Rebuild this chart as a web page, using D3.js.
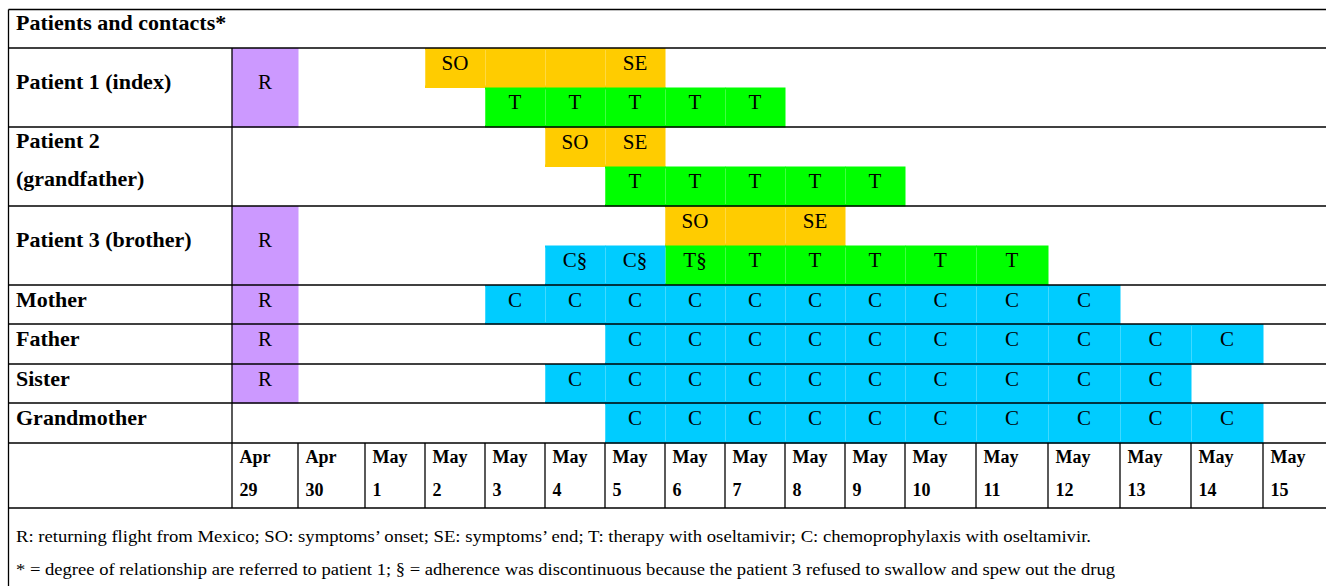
<!DOCTYPE html>
<html>
<head>
<meta charset="utf-8">
<script src="https://cdn.jsdelivr.net/npm/d3@7"></script>
<style>
  html, body { margin: 0; padding: 0; background: #fff; }
  svg { display: block; }
  text { font-family: "Liberation Serif", "Times New Roman", serif; fill: #000; }
</style>
</head>
<body>
<svg id="chart" width="1326" height="586"></svg>
<script>
// ---------------- DATA ----------------
const title = "Patients and contacts*";
const dayMonth = ["Apr","Apr","May","May","May","May","May","May","May","May","May","May","May","May","May","May","May"];
const dayNum   = ["29","30","1","2","3","4","5","6","7","8","9","10","11","12","13","14","15"];
const days = dayMonth.map((m, i) => m + " " + dayNum[i]);

const people = ["Patient 1 (index)", "Patient 2 (grandfather)", "Patient 3 (brother)", "Mother", "Father", "Sister", "Grandmother"];
const peopleLabels = [["Patient 1 (index)"], ["Patient 2", "(grandfather)"], ["Patient 3 (brother)"], ["Mother"], ["Father"], ["Sister"], ["Grandmother"]];
const patients = ["Patient 1 (index)", "Patient 2 (grandfather)", "Patient 3 (brother)"];

// R: returning flight from Mexico
const returnDay = "Apr 29";
const returnPeople = ["Patient 1 (index)", "Patient 3 (brother)", "Mother", "Father", "Sister"];

// Symptoms (SO .. SE)
const symptomPeople = ["Patient 1 (index)", "Patient 2 (grandfather)", "Patient 3 (brother)"];
const symptomOnset  = ["May 2", "May 4", "May 6"];
const symptomEnd    = ["May 5", "May 5", "May 8"];

// Therapy with oseltamivir (T)
const therapyPeople = ["Patient 1 (index)", "Patient 2 (grandfather)", "Patient 3 (brother)"];
const therapyStart  = ["May 3", "May 5", "May 6"];
const therapyEnd    = ["May 7", "May 9", "May 11"];
const therapyDiscontinuous = [[], [], ["May 6"]];

// Chemoprophylaxis with oseltamivir (C)
const chemoPeople = ["Patient 3 (brother)", "Mother", "Father", "Sister", "Grandmother"];
const chemoStart  = ["May 4", "May 3", "May 5", "May 4", "May 5"];
const chemoEnd    = ["May 5", "May 12", "May 14", "May 13", "May 14"];
const chemoDiscontinuous = [["May 4", "May 5"], [], [], [], []];

const footnotes = [
  "R: returning flight from Mexico; SO: symptoms\u2019 onset; SE: symptoms\u2019 end; T: therapy with oseltamivir; C: chemoprophylaxis with oseltamivir.",
  "* = degree of relationship are referred to patient 1; \u00a7 = adherence was discontinuous because the patient 3 refused to swallow and spew out the drug"
];

// ---------------- LAYOUT ----------------
const colors = { R: "#CC99FF", S: "#FFCC00", T: "#00FF00", C: "#00CCFF" };
const colEdges = [232, 298, 365, 425, 485, 545, 605, 665, 725, 785, 845, 905, 976, 1048, 1120, 1191, 1263, 1340];
const rowEdges = [48, 127, 206, 285, 324, 364, 403, 443];
const tableLeft = 8.5, tableTop = 9.5, dateBottom = 508, W = 1326;

const svg = d3.select("#chart");
const x = d3.scaleLinear().domain(d3.range(colEdges.length)).range(colEdges);
const y = d3.scaleLinear().domain(d3.range(rowEdges.length)).range(rowEdges);
const dayIdx = d => days.indexOf(d);
const personIdx = p => people.indexOf(p);

// track extents: patients have 2 tracks (0 = symptoms, 1 = treatment), contacts have 1
function track(person, t) {
  const i = personIdx(person);
  const y0 = y(i), y1 = y(i + 1);
  if (patients.includes(person)) {
    const m = (y0 + y1) / 2;
    if (t === "full") return [y0, y1];
    return t === 0 ? [y0, m] : [m, y1];
  }
  return [y0, y1];
}

// Build cells
const cells = [];
returnPeople.forEach(p => cells.push({ person: p, day: returnDay, t: "full", type: "R", label: "R" }));
symptomPeople.forEach((p, k) => {
  const a = dayIdx(symptomOnset[k]), b = dayIdx(symptomEnd[k]);
  for (let d = a; d <= b; d++) {
    cells.push({ person: p, day: days[d], t: 0, type: "S",
      label: d === a ? "SO" : (d === b ? "SE" : "") });
  }
});
therapyPeople.forEach((p, k) => {
  const a = dayIdx(therapyStart[k]), b = dayIdx(therapyEnd[k]);
  for (let d = a; d <= b; d++) {
    const disc = therapyDiscontinuous[k].includes(days[d]);
    cells.push({ person: p, day: days[d], t: 1, type: "T", label: "T" + (disc ? "\u00a7" : "") });
  }
});
chemoPeople.forEach((p, k) => {
  const a = dayIdx(chemoStart[k]), b = dayIdx(chemoEnd[k]);
  for (let d = a; d <= b; d++) {
    const disc = chemoDiscontinuous[k].includes(days[d]);
    cells.push({ person: p, day: days[d], t: 1, type: "C", label: "C" + (disc ? "\u00a7" : "") });
  }
});

cells.forEach(c => {
  const di = dayIdx(c.day);
  c.x0 = x(di); c.x1 = x(di + 1);
  const [y0, y1] = track(c.person, c.t);
  c.y0 = y0; c.y1 = y1;
});

// Cell rectangles
const gCells = svg.append("g");
gCells.selectAll("rect").data(cells).join("rect")
  .attr("x", d => d.x0).attr("y", d => d.y0)
  .attr("width", d => d.x1 - d.x0 + 0.5).attr("height", d => d.y1 - d.y0 + 0.5)
  .attr("fill", d => colors[d.type]);
// faint seams between adjacent cells
gCells.selectAll("line.seam").data(cells.filter(c => c.type !== "R")).join("line")
  .attr("class", "seam")
  .attr("x1", d => d.x0 + 0.5).attr("x2", d => d.x0 + 0.5)
  .attr("y1", d => d.y0 + 2).attr("y2", d => d.y1 - 2)
  .attr("stroke", "#fff").attr("stroke-opacity", 0.25).attr("stroke-width", 1);

// Cell labels
gCells.selectAll("text").data(cells.filter(c => c.label)).join("text")
  .attr("x", d => (d.x0 + d.x1) / 2)
  .attr("y", d => (d.y1 - d.y0) > 60 ? d.y0 + 40.5 : d.y0 + 21.5)
  .attr("text-anchor", "middle")
  .attr("font-size", 21)
  .text(d => d.label);

// ---------------- GRID ----------------
const gGrid = svg.append("g").attr("stroke", "#000").attr("stroke-width", 1.3);
const hLines = [tableTop, ...rowEdges, dateBottom];
gGrid.selectAll("line.h").data(hLines).join("line")
  .attr("x1", tableLeft).attr("x2", W).attr("y1", d => d).attr("y2", d => d);
gGrid.append("line").attr("x1", tableLeft).attr("x2", tableLeft).attr("y1", tableTop).attr("y2", 586);
gGrid.append("line").attr("x1", x(0)).attr("x2", x(0)).attr("y1", rowEdges[0]).attr("y2", dateBottom);
gGrid.selectAll("line.v").data(d3.range(1, days.length)).join("line")
  .attr("x1", d => x(d)).attr("x2", d => x(d))
  .attr("y1", y(people.length)).attr("y2", dateBottom);

// ---------------- TEXT ----------------
svg.append("text").attr("x", 16).attr("y", 30).attr("font-size", 22).attr("font-weight", "bold").text(title);

const gLab = svg.append("g").attr("font-size", 22).attr("font-weight", "bold");
people.forEach((p, i) => {
  const y0 = y(i), h = y(i + 1) - y0;
  const lines = peopleLabels[i];
  lines.forEach((ln, j) => {
    let by;
    if (lines.length === 2) by = y0 + 21 + j * 38;
    else by = h > 60 ? y0 + 40.5 : y0 + 21.5;
    gLab.append("text").attr("x", 16).attr("y", by).text(ln);
  });
});

// Date header
const gDates = svg.append("g").attr("font-size", 18).attr("font-weight", "bold");
gDates.selectAll("text.m").data(days).join("text")
  .attr("x", (d, i) => x(i) + 7.5).attr("y", 463).text((d, i) => dayMonth[i]);
gDates.selectAll("text.n").data(days).join("text")
  .attr("x", (d, i) => x(i) + 7.5).attr("y", 496).text((d, i) => dayNum[i]);

// Footnotes
const fnLen = [1075, 1099];
svg.selectAll("text.fn").data(footnotes).join("text")
  .attr("class", "fn")
  .attr("x", 16).attr("y", (d, i) => 542 + i * 33)
  .attr("font-size", 16)
  .attr("textLength", (d, i) => fnLen[i]).attr("lengthAdjust", "spacingAndGlyphs")
  .text(d => d);
</script>
</body>
</html>
